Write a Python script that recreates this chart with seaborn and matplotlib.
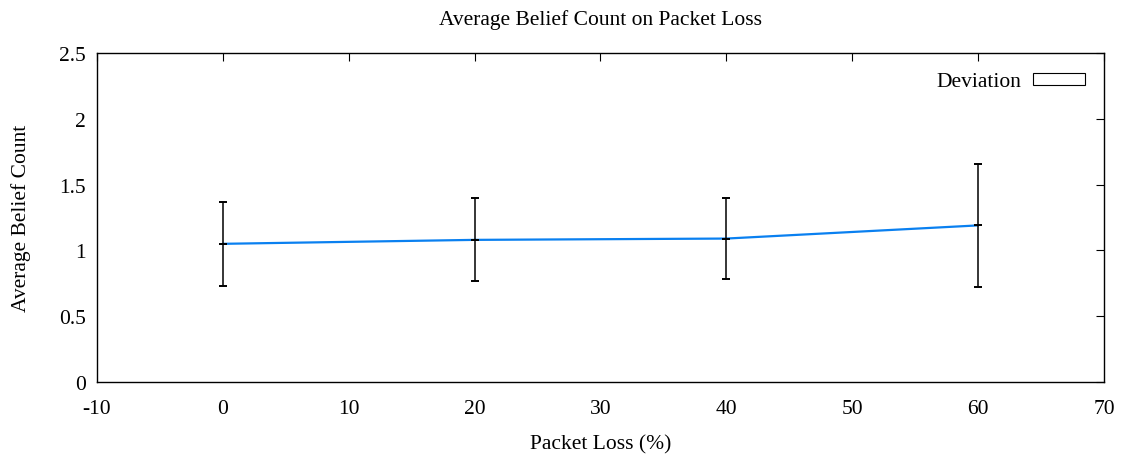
import numpy as np
import pandas as pd
import seaborn as sns
import matplotlib.pyplot as plt
from matplotlib.patches import Rectangle

loss = [0, 20, 40, 60]
belief = [1.05, 1.08, 1.09, 1.19]
deviation = [0.32, 0.315, 0.305, 0.47]

xticks = [-10, 0, 10, 20, 30, 40, 50, 60, 70]
yticks = [0, 0.5, 1, 1.5, 2, 2.5]

sns.set_style("white")
plt.rcParams['font.family'] = ['Liberation Serif', 'DejaVu Serif']
plt.rcParams['text.color'] = 'black'
plt.rcParams['axes.labelcolor'] = 'black'
fs = 15.5

df = pd.DataFrame({'loss': loss, 'belief': belief, 'dev': deviation})

fig = plt.figure(figsize=(11.25, 4.6), dpi=100)
ax = fig.add_axes([0.0862, 0.1674, 0.8951, 0.7152])

sns.lineplot(data=df, x='loss', y='belief', color='#0a80f0', linewidth=1.6, ax=ax)
ax.errorbar(df['loss'], df['belief'], yerr=df['dev'], fmt='_', color='black',
            ecolor='black', elinewidth=1.1, capsize=3, capthick=1.1, markersize=6,
            markeredgewidth=1.4, zorder=3)

ax.set_xlim(-10, 70)
ax.set_ylim(0, 2.5)
ax.set_xticks(xticks)
ax.set_yticks(yticks)
ax.set_xticklabels([str(t) for t in xticks])
ax.set_yticklabels(['0', '0.5', '1', '1.5', '2', '2.5'])
ax.tick_params(direction='in', length=6, width=0.8, top=True, right=True,
               labelsize=fs, colors='black')
ax.tick_params(axis='x', pad=12)
ax.tick_params(axis='y', pad=8)
for s in ax.spines.values():
    s.set_color('black')
    s.set_linewidth(1.0)

ax.set_title('Average Belief Count on Packet Loss', fontsize=fs, pad=21, color='black')
ax.set_xlabel('Packet Loss (%)', fontsize=fs, labelpad=12)
ax.set_ylabel('Average Belief Count', fontsize=fs, labelpad=20)

handle = Rectangle((0, 0), 1, 1, facecolor='white', edgecolor='black', linewidth=0.8)
leg = ax.legend([handle], ['Deviation'], loc='upper right', frameon=False,
                fontsize=fs, markerfirst=False, handlelength=2.4, handleheight=0.47,
                handletextpad=0.55, borderaxespad=0.5, borderpad=0.4)
for t in leg.get_texts():
    t.set_color('black')

fig.savefig('out.png', dpi=100)
